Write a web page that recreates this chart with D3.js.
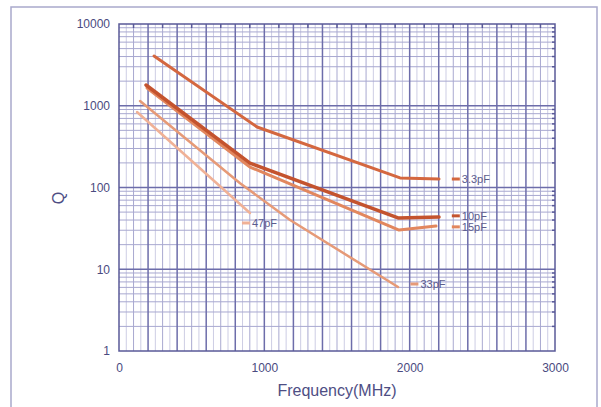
<!DOCTYPE html>
<html><head><meta charset="utf-8">
<script src="https://cdn.jsdelivr.net/npm/d3@7"></script>
<style>body{margin:0;background:#fff}svg{display:block;font-family:"Liberation Sans",Arial,sans-serif}</style>
</head><body>
<svg id="c" width="601" height="407"></svg>
<script>
// ---- data ----
const seriesNames = ["3.3pF", "10pF", "15pF", "33pF", "47pF"];
const freq33p = [241, 950, 1934, 2202];
const q33p    = [4060, 550, 131, 127];
const freq10p = [186, 901, 1920, 2202];
const q10p    = [1795, 199, 42.4, 43.6];
const freq15p = [193, 901, 1927, 2181];
const q15p    = [1650, 178, 30.2, 33.8];
const freq33  = [145, 833, 1177, 1920];
const q33     = [1143, 113, 40, 6.07];
const freq47  = [124, 901];
const q47     = [839, 48.7];
const labelFreq = [2290, 2290, 2290, 2005, 846];
const labelQ    = [127, 45, 33, 6.6, 36.8];
const xTicks = [0, 1000, 2000, 3000];
const yTicks = [1, 10, 100, 1000, 10000];

const colors = ["#d4673f", "#c4532e", "#e2875e", "#e69a77", "#f0b196"];
const widths = [3, 3.5, 3, 2.5, 2.5];

const svg = d3.select("#c");
svg.append("rect").attr("width",601).attr("height",407).attr("fill","#fff");
svg.append("rect").attr("x",11).attr("y",7).attr("width",586).attr("height",430)
  .attr("fill","none").attr("stroke","#a9a9cc").attr("stroke-width",1.5);

const L=119, R=555, T=24, B=351;
const x = d3.scaleLinear().domain([0,3000]).range([L,R]);
const y = d3.scaleLog().domain([1,10000]).range([B,T]);

const g = svg.append("g");
// vertical grid
const vLight=[], vMed=[], vDark=[];
for (let f=50; f<3000; f+=50) {
  if (f%200===0) vDark.push(f); else if (f%100===0) vMed.push(f); else vLight.push(f);
}
g.selectAll(".vl").data(vLight).join("line").attr("x1",d=>x(d)).attr("x2",d=>x(d)).attr("y1",T).attr("y2",B)
  .attr("stroke","#cdcde4").attr("stroke-width",1);
g.selectAll(".vm").data(vMed).join("line").attr("x1",d=>x(d)).attr("x2",d=>x(d)).attr("y1",T).attr("y2",B)
  .attr("stroke","#a9a9d0").attr("stroke-width",1);
// horizontal minor grid
const hMinor=[];
for (let d=1; d<10000; d*=10) for (let m=2;m<=9;m++) hMinor.push(d*m);
g.selectAll(".hm").data(hMinor).join("line").attr("x1",L).attr("x2",R).attr("y1",d=>y(d)).attr("y2",d=>y(d))
  .attr("stroke","#a8a8d0").attr("stroke-width",1);
g.selectAll(".vd").data(vDark).join("line").attr("x1",d=>x(d)).attr("x2",d=>x(d)).attr("y1",T).attr("y2",B)
  .attr("stroke","#6d6daa").attr("stroke-width",1.5);
g.selectAll(".hd").data(yTicks.slice(1,-1)).join("line").attr("x1",L).attr("x2",R).attr("y1",d=>y(d)).attr("y2",d=>y(d))
  .attr("stroke","#6d6daa").attr("stroke-width",1.5);
// small ticks top and right
g.selectAll(".tt").data(vMed).join("line").attr("x1",d=>x(d)).attr("x2",d=>x(d)).attr("y1",T).attr("y2",T+4)
  .attr("stroke","#5a5a98").attr("stroke-width",1.5);
g.selectAll(".rt").data(hMinor).join("line").attr("x1",R-3).attr("x2",R).attr("y1",d=>y(d)).attr("y2",d=>y(d))
  .attr("stroke","#5a5a98").attr("stroke-width",1.5);
g.append("rect").attr("x",L).attr("y",T).attr("width",R-L).attr("height",B-T)
  .attr("fill","none").attr("stroke","#5a5a98").attr("stroke-width",1.5);

// axes labels via d3 axes
const ax = svg.append("g").attr("transform",`translate(0,${B})`)
  .call(d3.axisBottom(x).tickValues(xTicks).tickSize(0).tickPadding(12).tickFormat(d3.format("d")));
const ay = svg.append("g").attr("transform",`translate(${L},0)`)
  .call(d3.axisLeft(y).tickValues(yTicks).tickSize(0).tickPadding(9).tickFormat(d3.format("d")));
[ax,ay].forEach(a=>{ a.select(".domain").remove();
  a.selectAll("text").attr("fill","#4a4a80").style("font-size","12px").style("font-family","'Liberation Sans',Arial,sans-serif"); });

svg.append("text").attr("x",337).attr("y",396).attr("text-anchor","middle")
  .attr("fill","#4e4e84").style("font-size","16px").text("Frequency(MHz)");
svg.append("text").attr("transform","translate(64,198) rotate(-90)").attr("text-anchor","middle")
  .attr("fill","#4e4e84").style("font-size","16px").text("Q");

// series
const series = [[freq33p,q33p],[freq10p,q10p],[freq15p,q15p],[freq33,q33],[freq47,q47]];
const line = d3.line().x(d=>x(d[0])).y(d=>y(d[1]));
const order = [4,3,2,1,0];
order.forEach(i=>{
  const pts = series[i][0].map((f,j)=>[f, series[i][1][j]]);
  svg.append("path").attr("d",line(pts)).attr("fill","none").attr("stroke",colors[i])
    .attr("stroke-width",widths[i]).attr("stroke-linejoin","round").attr("stroke-linecap","round");
});
// labels
seriesNames.forEach((n,i)=>{
  const lx = x(labelFreq[i]), ly = y(labelQ[i]);
  svg.append("line").attr("x1",lx).attr("x2",lx+8).attr("y1",ly).attr("y2",ly)
    .attr("stroke",colors[i]).attr("stroke-width",3);
  svg.append("text").attr("x",lx+10).attr("y",ly+4).attr("fill","#5c5c8e")
    .style("font-size","11px").text(n);
});
</script>
</body></html>
